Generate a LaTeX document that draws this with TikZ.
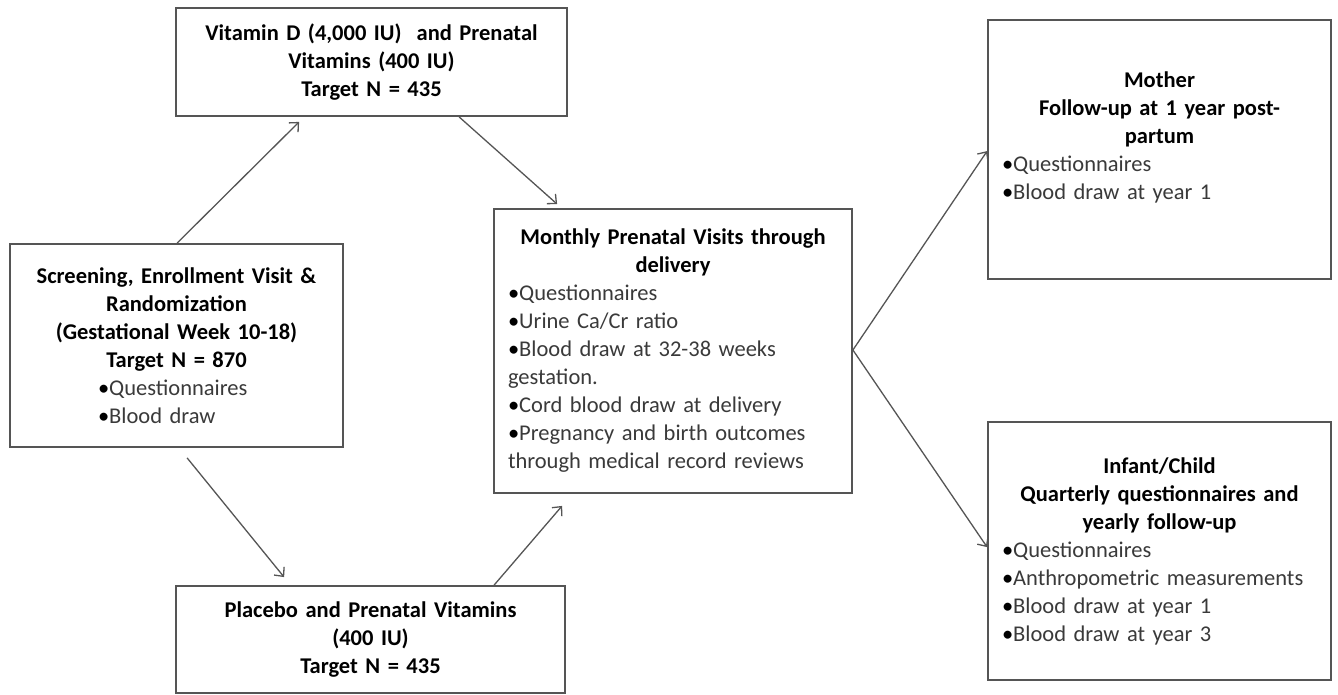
\documentclass[tikz,border=0pt]{standalone}
\usepackage{fontspec}
\setmainfont{Carlito}
\usetikzlibrary{arrows.meta}
\definecolor{edgecol}{HTML}{555555}
\definecolor{txtcol}{HTML}{3A3A3A}
\newcommand{\bl}{\textcolor{black}{\textbullet}}
\newcommand{\hd}[1]{{\centering\bfseries\color{black}#1\par}}
\newcommand{\bitem}[2][0pt]{\par\noindent\hspace*{#1}\mbox{\bl\textcolor{txtcol}{#2}}}
\tikzset{
  box/.style={draw=edgecol, line width=1.8pt, fill=white, inner sep=0pt,
    font=\fontsize{22.5}{28}\selectfont,
    execute at begin node={\setlength{\parindent}{0pt}}},
  conn/.style={draw=edgecol, line width=1.3pt, -{Straight Barb[length=7pt,width=13pt]}},
}
\begin{document}
\begin{tikzpicture}[x=1pt,y=-1pt]
\useasboundingbox[fill=white] (0,0) rectangle (1338,695);

\node[box, minimum width=333pt, minimum height=203pt, text width=313pt] (scr) at (176.5,345.5)
 {\hd{Screening, Enrollment Visit \&\par Randomization\par (Gestational Week 10-18)\par Target N = 870}
  \bitem[78pt]{Questionnaires}
  \bitem[78pt]{Blood draw}};

\node[box, minimum width=391pt, minimum height=108pt, text width=370pt] (vit) at (371.5,62)
 {\hd{Vitamin D (4,000 IU) \ and Prenatal\par Vitamins (400 IU)\par Target N = 435}};

\node[box, minimum width=389pt, minimum height=107pt, text width=370pt] (pla) at (370.5,639.5)
 {\hd{Placebo and Prenatal Vitamins\par (400 IU)\par Target N = 435}};

\node[box, minimum width=358pt, minimum height=284pt, text width=330pt] (mon) at (673,351)
 {\hd{Monthly Prenatal Visits through\par delivery}
  \bitem{Questionnaires}
  \bitem{Urine Ca/Cr ratio}
  \bitem{Blood draw at 32-38 weeks}
  \par\noindent\textcolor{txtcol}{gestation.}
  \bitem{Cord blood draw at delivery}
  \bitem{Pregnancy and birth outcomes}
  \par\noindent\textcolor{txtcol}{through medical record reviews}};

\node[box, minimum width=343pt, minimum height=259pt, text width=315pt] (mot) at (1159.5,149.5)
 {\hd{Mother\par Follow-up at 1 year post-\par partum}
  \bitem{Questionnaires}
  \bitem{Blood draw at year 1}
  \par\noindent\mbox{}};

\node[box, minimum width=343pt, minimum height=258pt, text width=315pt] (inf) at (1159.5,551)
 {\hd{Infant/Child\par Quarterly questionnaires and\par yearly follow-up}
  \bitem{Questionnaires}
  \bitem{Anthropometric measurements}
  \bitem{Blood draw at year 1}
  \bitem{Blood draw at year 3}};

\draw[conn] ([xshift=168pt]scr.north west) -- ([xshift=124pt,yshift=-5pt]vit.south west);
\draw[conn] ([xshift=284pt]vit.south west) -- ([xshift=64pt,yshift=4pt]mon.north west);
\draw[conn] ([xshift=178pt,yshift=-10pt]scr.south west) -- ([xshift=109pt,yshift=8pt]pla.north west);
\draw[conn] ([xshift=319pt]pla.north west) -- ([xshift=69pt,yshift=-12pt]mon.south west);
\coordinate (fork) at ([yshift=1pt]mon.east);
\draw[conn] (fork) -- ([yshift=-132pt]mot.north west);
\draw[conn] (fork) -- ([yshift=-126pt]inf.north west);
\end{tikzpicture}
\end{document}
